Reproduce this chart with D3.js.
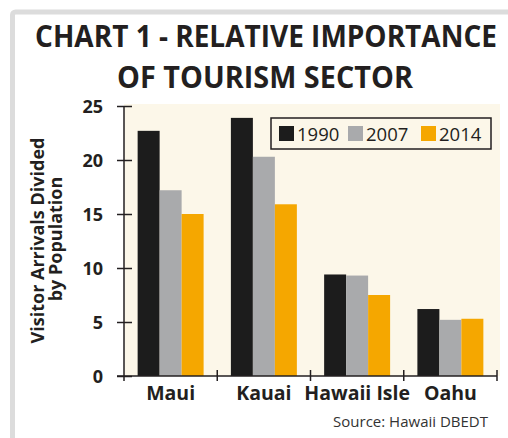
<!DOCTYPE html>
<html>
<head>
<meta charset="utf-8">
<script src="https://cdn.jsdelivr.net/npm/d3@7"></script>
<style>
  html, body { margin: 0; padding: 0; background: #fff; }
  svg { display: block; }
  text { font-family: "Open Sans", "Noto Sans", sans-serif; }
</style>
</head>
<body>
<svg id="chart" width="508" height="438"></svg>
<script>
// Visitor arrivals divided by resident population, by island
const islands = ["Maui", "Kauai", "Hawaii Isle", "Oahu"];
const years = ["1990", "2007", "2014"];
const values1990 = [22.7, 23.9, 9.4, 6.2];
const values2007 = [17.2, 20.3, 9.3, 5.2];
const values2014 = [15.0, 15.9, 7.5, 5.3];
const yTicks = [0, 5, 10, 15, 20, 25];
const yearColors = ["#1c1c1c", "#a9aaac", "#f5a700"];

const seriesByYear = [values1990, values2007, values2014];
const rows = islands.map((name, i) => ({
  name,
  vals: years.map((yr, j) => ({ year: yr, value: seriesByYear[j][i], color: yearColors[j] }))
}));

const svg = d3.select("#chart");
const ink = "#231f20";

// Draws a centred line of text squeezed horizontally to a given width
function fittedText(parent, str, cx, baseline, width, rotate) {
  const g = parent.append("g");
  const t = g.append("text").attr("text-anchor", "middle").text(str);
  const natural = t.node().getComputedTextLength();
  const k = Math.min(1, width / natural);
  g.attr("transform", `translate(${cx},${baseline})${rotate ? " rotate(-90)" : ""} scale(${k},1)`);
  return t;
}

// Outer panel border (runs off the right and bottom edges)
svg.append("rect")
  .attr("x", 12.5).attr("y", 12).attr("width", 540).attr("height", 470)
  .attr("rx", 3)
  .attr("fill", "#fff").attr("stroke", "#dcdcdc").attr("stroke-width", 5);

// Title
const title = svg.append("g").attr("fill", ink)
  .style("font-weight", 700).style("font-size", "31px");
fittedText(title, "CHART 1 - RELATIVE IMPORTANCE", 266, 47, 462, false);
fittedText(title, "OF TOURISM SECTOR", 265, 88, 296, false);

// Scales
const x0 = d3.scaleBand().domain(islands).range([124, 497]).paddingInner(0).paddingOuter(0);
const x1 = d3.scaleBand().domain(years).range([0, x0.bandwidth()])
  .paddingInner(0).paddingOuter(0.62);
const y = d3.scaleLinear().domain([0, 25]).range([376, 106]);

// Plot background
svg.append("rect")
  .attr("x", x0.range()[0]).attr("y", y(25) - 2)
  .attr("width", x0.range()[1] - x0.range()[0] + 3).attr("height", y(0) - y(25) + 2)
  .attr("fill", "#fcf7e9");

// Bars
svg.append("g").selectAll("g").data(rows).join("g")
  .attr("transform", d => `translate(${x0(d.name)},0)`)
  .selectAll("rect").data(d => d.vals).join("rect")
  .attr("x", d => x1(d.year))
  .attr("width", x1.bandwidth())
  .attr("y", d => y(d.value))
  .attr("height", d => y(0) - y(d.value))
  .attr("fill", d => d.color);

// Y axis with ticks crossing the axis line
const yAxis = svg.append("g")
  .attr("transform", `translate(${x0.range()[0]},0)`)
  .call(d3.axisLeft(y).tickValues(yTicks).tickSize(7).tickPadding(14).tickSizeOuter(0));
yAxis.select(".domain").remove();
yAxis.selectAll(".tick line").attr("x1", -7).attr("x2", 8)
  .attr("stroke", ink).attr("stroke-width", 1.5);
yAxis.selectAll(".tick text")
  .attr("fill", ink).style("font-size", "18px").style("font-weight", 700)
  .style("font-family", "'Open Sans', sans-serif").attr("dy", "0.36em");
yAxis.append("line")
  .attr("x1", 0).attr("x2", 0).attr("y1", y(25)).attr("y2", y(0) + 5)
  .attr("stroke", ink).attr("stroke-width", 1.5);

// X axis: baseline, band-boundary ticks and island labels
const xAxis = svg.append("g")
  .attr("transform", `translate(0,${y(0)})`)
  .call(d3.axisBottom(x0).tickSize(0).tickPadding(10));
xAxis.select(".domain").remove();
xAxis.append("line")
  .attr("x1", x0.range()[0] - 7).attr("x2", x0.range()[1])
  .attr("stroke", ink).attr("stroke-width", 1.5);
const bounds = islands.map(d => x0(d)).slice(1).concat([x0.range()[1]]);
xAxis.selectAll(".bound").data(bounds).join("line")
  .attr("class", "bound")
  .attr("x1", d => d).attr("x2", d => d).attr("y1", -6).attr("y2", 5)
  .attr("stroke", ink).attr("stroke-width", 1.5);
xAxis.selectAll(".tick text")
  .attr("fill", ink).style("font-size", "19.5px").style("font-weight", 700)
  .style("font-family", "'Open Sans', sans-serif");

// Y axis title
const yTitle = svg.append("g")
  .attr("fill", ink).style("font-weight", 700).style("font-size", "18px");
fittedText(yTitle, "Visitor Arrivals Divided", 44, 240.5, 215, true);
fittedText(yTitle, "by Population", 62, 239, 128, true);

// Legend
const legend = svg.append("g");
legend.append("rect")
  .attr("x", 271).attr("y", 118).attr("width", 220).attr("height", 31)
  .attr("fill", "#fcf7e9").attr("stroke", ink).attr("stroke-width", 1.5);
const legendX = [279, 348, 421];
const items = legend.selectAll("g.item").data(years).join("g")
  .attr("class", "item")
  .attr("transform", (d, i) => `translate(${legendX[i]},126)`);
items.append("rect").attr("width", 15).attr("height", 15)
  .attr("fill", (d, i) => yearColors[i]);
items.append("text").attr("x", 18).attr("y", 15)
  .attr("fill", ink).style("font-size", "18.5px")
  .text(d => d);

// Source note
svg.append("text")
  .attr("x", 488).attr("y", 427).attr("text-anchor", "end")
  .attr("fill", "#333").style("font-size", "15px")
  .text("Source: Hawaii DBEDT");
</script>
</body>
</html>
